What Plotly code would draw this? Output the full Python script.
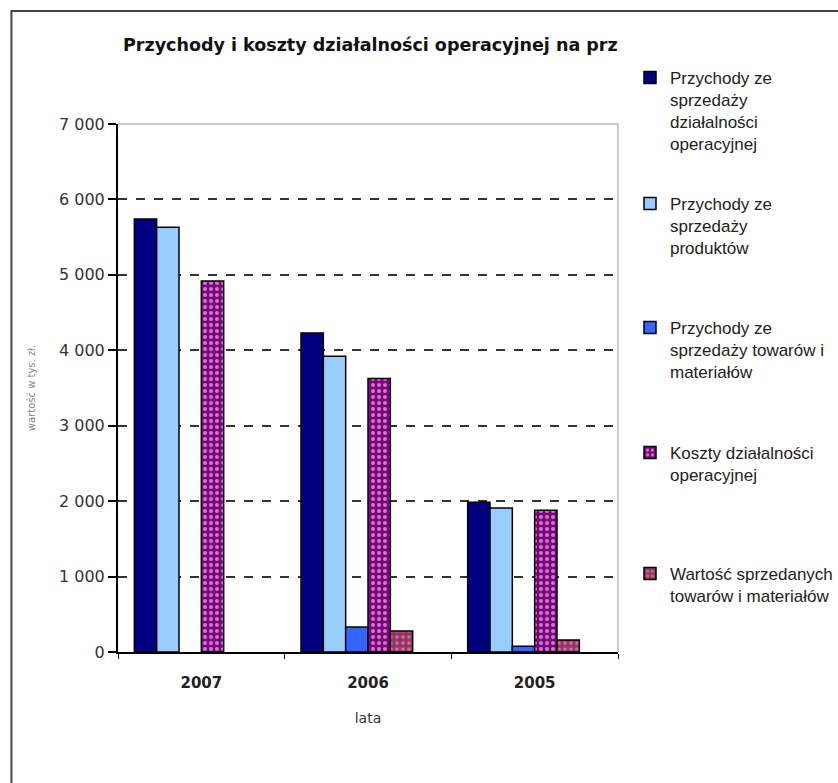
import plotly.graph_objects as go

# Years (categories) and series values in thousands of PLN
years = ["2007", "2006", "2005"]

przychody_operacyjne = [5740, 4230, 1985]
przychody_produkty = [5630, 3920, 1910]
przychody_towary = [None, 330, 75]
koszty_operacyjne = [4920, 3625, 1880]
wartosc_towarow = [None, 280, 160]
pusta_seria = [None, None, None]

y_ticks = [0, 1000, 2000, 3000, 4000, 5000, 6000, 7000]
grid_ticks = [1000, 2000, 3000, 4000, 5000, 6000]

W, H = 838, 783
L, R, T, B = 118, 620, 124, 652  # plot area in pixels


def px_x(p):
    return (p - L) / (R - L)


def px_y(p):
    return (B - p) / (B - T)


outline = dict(color="black", width=1.5)
FONT = "DejaVu Sans"
LEG_FONT = "Liberation Sans"

series = [
    ("Przychody ze<br>sprzedaży<br>działalności<br>operacyjnej", przychody_operacyjne,
     dict(color="#000080", line=outline), "legend", 77),
    ("Przychody ze<br>sprzedaży<br>produktów", przychody_produkty,
     dict(color="#99CCFF", line=outline), "legend2", 203),
    ("Przychody ze<br>sprzedaży towarów i<br>materiałów", przychody_towary,
     dict(color="#3366FF", line=outline), "legend3", 327),
    ("Koszty działalności<br>operacyjnej", koszty_operacyjne,
     dict(color="#800080", line=outline,
          pattern=dict(shape=".", fgcolor="white", bgcolor="#800080", size=6, solidity=0.35)),
     "legend4", 452),
    ("Wartość sprzedanych<br>towarów i materiałów", wartosc_towarow,
     dict(color="#993366", line=outline,
          pattern=dict(shape=".", fgcolor="#E8B0CC", bgcolor="#993366", size=6, solidity=0.3)),
     "legend5", 573),
]

fig = go.Figure()
legends = {}
for name, vals, marker, leg, ypos in series:
    fig.add_trace(go.Bar(x=years, y=vals, name=name, marker=marker, legend=leg))
    legends[leg] = dict(
        x=630 / W, xref="container", xanchor="left",
        y=1 - (ypos - 17) / H, yref="container", yanchor="top",
        valign="top", bgcolor="rgba(0,0,0,0)",
        font=dict(family=LEG_FONT, size=17, color="#222"),
        tracegroupgap=0,
    )

# empty sixth slot of each group
fig.add_trace(go.Bar(x=years, y=pusta_seria, showlegend=False, hoverinfo="skip"))

# dashed gridlines on an overlaid axis (no line at the top edge)
fig.add_trace(go.Scatter(x=years, y=pusta_seria, yaxis="y2", showlegend=False,
                         hoverinfo="skip", mode="markers"))

shapes = [
    # plot area top and right border
    dict(type="line", xref="paper", yref="paper", x0=0, x1=1, y0=1, y1=1,
         line=dict(color="#999", width=1)),
    dict(type="line", xref="paper", yref="paper", x0=1, x1=1, y0=0, y1=1,
         line=dict(color="#999", width=1)),
    # outer chart frame
    dict(type="rect", xref="paper", yref="paper",
         x0=px_x(11), x1=px_x(860), y0=px_y(11), y1=px_y(810),
         line=dict(color="#444", width=2), fillcolor="rgba(0,0,0,0)"),
]

fig.update_layout(
    width=W, height=H,
    margin=dict(l=L, r=W - R, t=T, b=H - B),
    paper_bgcolor="white", plot_bgcolor="white",
    separators=", ",
    barmode="group", bargap=0.196, bargroupgap=0,
    font=dict(family=FONT, color="#222"),
    title=dict(
        text="<b>Przychody i koszty działalności operacyjnej na prz</b>",
        xref="container", x=123 / W, xanchor="left",
        yref="container", y=1 - 45 / H, yanchor="middle",
        font=dict(family=FONT, size=17.5, color="#111"),
    ),
    xaxis=dict(
        type="category", showline=True, linecolor="black", linewidth=2,
        ticks="outside", tickson="boundaries", ticklen=5, tickcolor="black",
        ticklabelstandoff=16,
        tickfont=dict(family=FONT, size=15, color="#222", weight="bold"),
        title=dict(text="lata", font=dict(family=FONT, size=14, color="#333"), standoff=22),
        showgrid=False,
    ),
    yaxis=dict(
        range=[0, 7000], tickvals=y_ticks, tickformat=",d",
        showline=True, linecolor="black", linewidth=2,
        ticks="outside", ticklen=8, tickcolor="black", tickwidth=2,
        tickfont=dict(family=FONT, size=16, color="#333"),
        showgrid=False, zeroline=False,
        title=dict(text="wartość w tys. zł.", font=dict(family=FONT, size=10, color="#888"),
                   standoff=21),
    ),
    yaxis2=dict(
        overlaying="y", range=[0, 7000], tickvals=grid_ticks,
        showticklabels=False, ticks="", showline=False, zeroline=False,
        showgrid=True, gridcolor="#333", gridwidth=2, griddash="dash",
    ),
    shapes=shapes,
    **legends,
)

fig.write_html("out.html")
